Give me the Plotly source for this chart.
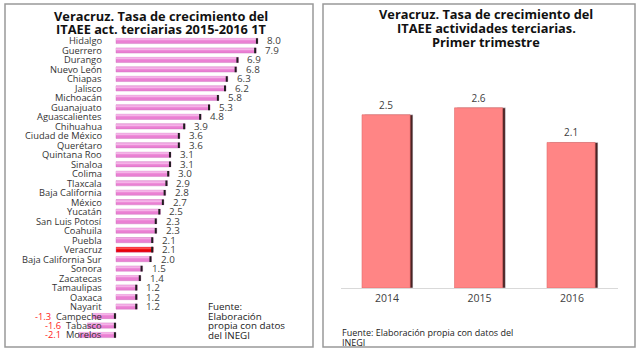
import plotly.graph_objects as go

# ---------------- data ----------------
states = ["Hidalgo", "Guerrero", "Durango", "Nuevo León", "Chiapas", "Jalisco",
          "Michoacán", "Guanajuato", "Aguascalientes", "Chihuahua", "Ciudad de México",
          "Querétaro", "Quintana Roo", "Sinaloa", "Colima", "Tlaxcala", "Baja California",
          "México", "Yucatán", "San Luis Potosí", "Coahuila", "Puebla", "Veracruz",
          "Baja California Sur", "Sonora", "Zacatecas", "Tamaulipas", "Oaxaca", "Nayarit",
          "Campeche", "Tabasco", "Morelos"]
growth_2016 = [8.0, 7.9, 6.9, 6.8, 6.3, 6.2, 5.8, 5.3, 4.8, 3.9, 3.6, 3.6, 3.1, 3.1,
               3.0, 2.9, 2.8, 2.7, 2.5, 2.3, 2.3, 2.1, 2.1, 2.0, 1.5, 1.4, 1.2, 1.2,
               1.2, -1.3, -1.6, -2.1]
years = ["2014", "2015", "2016"]
veracruz_growth = [2.5, 2.6, 2.1]

highlight = "Veracruz"

W, H = 640, 352
FONT = "Open Sans"

def px(x):
    return x / W

def py(y):
    return 1 - y / H

fig = go.Figure()

# ---------------- left chart ----------------
colors = ["#e8000a" if s == highlight else "#ea80d3" for s in states]
hl_colors = ["#ff4a4a" if s == highlight else "#f5b4e8" for s in states]
fig.add_trace(go.Bar(
    x=growth_2016, y=states, orientation="h", width=0.55,
    marker=dict(color=colors, line=dict(color="#c86ab8", width=0.4)),
    xaxis="x", yaxis="y", showlegend=False, hoverinfo="x+y",
))
# light highlight stripe on each bar
fig.add_trace(go.Bar(
    x=growth_2016, y=states, orientation="h", width=0.1, offset=-0.2,
    marker=dict(color=hl_colors, line=dict(width=0)),
    xaxis="x", yaxis="y", showlegend=False, hoverinfo="skip",
))
# dark end tick (3D shadow look)
fig.add_trace(go.Scatter(
    x=[max(v, 0) - 0.06 for v in growth_2016], y=states, mode="markers",
    marker=dict(symbol="line-ns", size=4, line=dict(width=2, color="#1e1e1e")),
    xaxis="x", yaxis="y", showlegend=False, hoverinfo="skip",
))

annotations = []
for s, v in zip(states, growth_2016):
    if v >= 0:
        annotations.append(dict(
            x=0, y=s, xref="x", yref="y", xanchor="right", xshift=-12,
            text=s, showarrow=False, font=dict(family=FONT, size=9.3, color="#333333")))
        annotations.append(dict(
            x=v, y=s, xref="x", yref="y", xanchor="left", xshift=7,
            text=f"{v:.1f}", showarrow=False, font=dict(family=FONT, size=9.8, color="#404040")))
    else:
        annotations.append(dict(
            x=0, y=s, xref="x", yref="y", xanchor="right", xshift=-12,
            text=f"<span style='color:#ff2020'>{v:.1f}</span>  {s}", showarrow=False,
            font=dict(family=FONT, size=9.3, color="#333333")))

# ---------------- right chart ----------------
fig.add_trace(go.Bar(
    x=years, y=veracruz_growth, width=0.52, offset=-0.24,
    marker=dict(color="#4a2424"), xaxis="x2", yaxis="y2",
    showlegend=False, hoverinfo="skip",
))
fig.add_trace(go.Bar(
    x=years, y=veracruz_growth, width=0.52, offset=-0.27,
    marker=dict(color="#ff8585", line=dict(color="#e06a6a", width=0.6)),
    text=[f"{v:.1f}" for v in veracruz_growth], textposition="outside",
    textfont=dict(family=FONT, size=10, color="#404040"), cliponaxis=False,
    xaxis="x2", yaxis="y2", showlegend=False,
))

# titles and notes (one annotation per line to control leading)
title_font = dict(family=FONT, size=12.8, color="#111111")
note_font = dict(family=FONT, size=9.8, color="#222222")
src_font = dict(family=FONT, size=9, color="#222222")

def line(x, y, text, font, anchor="center"):
    return dict(x=px(x), y=py(y), xref="paper", yref="paper", xanchor=anchor,
                yanchor="middle", text=text, showarrow=False, font=font)

annotations += [
    line(161, 16, "<b>Veracruz. Tasa de crecimiento del</b>", title_font),
    line(161, 29, "<b>ITAEE act. terciarias 2015-2016 1T</b>", title_font),
    line(486, 14, "<b>Veracruz. Tasa de crecimiento del</b>", title_font),
    line(486, 28, "<b>ITAEE actividades terciarias.</b>", title_font),
    line(486, 42, "<b>Primer trimestre</b>", title_font),
    line(206, 306, "Fuente:", note_font, "left"),
    line(206, 316, "Elaboración", note_font, "left"),
    line(206, 325.5, "propia con datos", note_font, "left"),
    line(206, 335, "del INEGI", note_font, "left"),
    line(340, 332, "Fuente: Elaboración propia con datos del", src_font, "left"),
    line(340, 342, "INEGI", src_font, "left"),
]

shapes = [
    dict(type="rect", xref="paper", yref="paper", x0=px(5), x1=px(313), y0=py(347), y1=py(4),
         line=dict(color="#999999", width=1.5)),
    dict(type="rect", xref="paper", yref="paper", x0=px(323), x1=px(635), y0=py(347), y1=py(4),
         line=dict(color="#999999", width=1.5)),
]

row = (335 - 41) / 31
zero_x = 116
unit = 17.75
fig.update_layout(
    width=W, height=H, margin=dict(l=0, r=0, t=0, b=0),
    paper_bgcolor="white", plot_bgcolor="white",
    barmode="overlay",
    font=dict(family=FONT),
    xaxis=dict(domain=[px(zero_x - 6 * unit), px(zero_x + 10 * unit)], range=[-6, 10],
               visible=False, fixedrange=True),
    yaxis=dict(domain=[py(335 + row / 2), py(41 - row / 2)], range=[len(states) - 0.5, -0.5],
               type="category", visible=False, fixedrange=True),
    xaxis2=dict(domain=[px(340.75), px(618.25)], range=[-0.5, 2.5], type="category",
                anchor="y2", showline=True, linecolor="#d9d9d9", linewidth=1,
                ticks="", tickfont=dict(family=FONT, size=10.5, color="#404040"), showgrid=False),
    yaxis2=dict(domain=[py(288), py(288 - 3.2 * 69.3)], range=[0, 3.2], anchor="x2",
                visible=False, showgrid=False),
    annotations=annotations, shapes=shapes,
)

fig.write_html("out.html")
